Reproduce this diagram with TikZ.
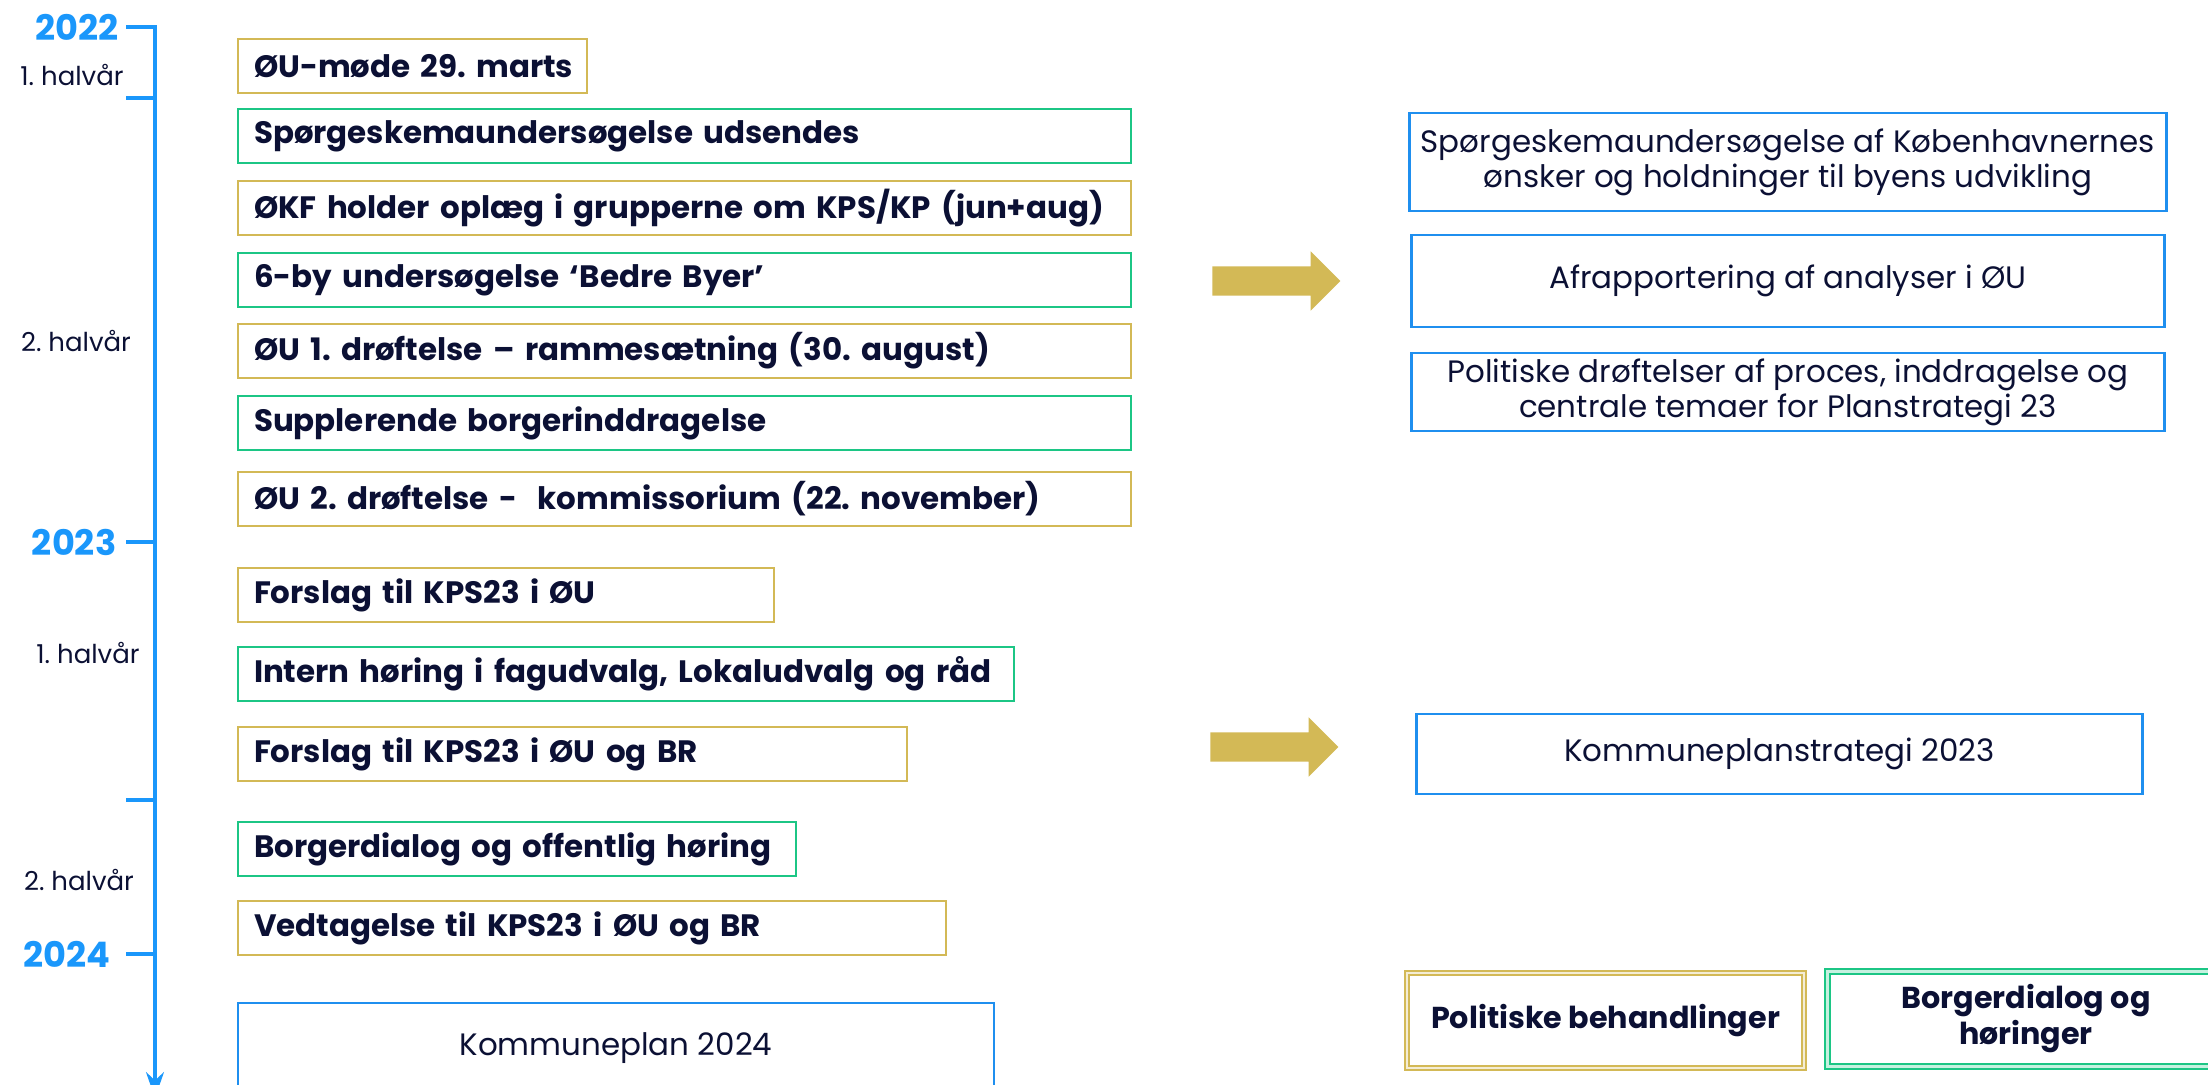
\documentclass[tikz,border=0pt]{standalone}
\usepackage{fontspec}
\setmainfont{Poppins}
\usetikzlibrary{positioning,shapes.arrows,arrows.meta}
\definecolor{kbhgold}{HTML}{D3B956}
\definecolor{kbhgreen}{HTML}{1CC685}
\definecolor{kbhblue}{HTML}{1F8FEF}
\definecolor{lineblue}{HTML}{1A97FB}
\definecolor{navy}{HTML}{0B1034}
\frenchspacing

\begin{document}
\begin{tikzpicture}[x=1cm, y=-1cm,
					event/.style={rectangle, draw, line width=0.8pt, outer sep=0pt, minimum height=0.54cm, inner xsep=0.16cm, inner ysep=0pt, align=left, text=navy, font=\bfseries\fontsize{8.8}{10}\selectfont},
					polit/.style={event, draw=kbhgold},
					dialog/.style={event, draw=kbhgreen},
					result/.style={rectangle, draw=kbhblue, line width=0.8pt, outer sep=0pt, inner ysep=0.5pt, align=center, text=navy, font=\fontsize{8.8}{10}\selectfont},
					year/.style={text=lineblue, font=\bfseries\fontsize{10}{12}\selectfont, anchor=east, inner sep=0pt},
					half/.style={text=navy, font=\fontsize{7.4}{9}\selectfont, inner sep=0pt},
					tline/.style={draw=lineblue, line width=0.9pt},
					blockarrow/.style={single arrow, fill=kbhgold, draw=none, minimum height=1.28cm, inner xsep=0pt, inner ysep=0.14cm, single arrow head extend=0.15cm, single arrow tip angle=90},
					legend/.style={rectangle, line width=0.6pt, double distance=0.6pt, minimum width=3.97cm, minimum height=0.95cm, align=center, text=navy, font=\bfseries\fontsize{8.6}{8.8}\selectfont}
				]
				\useasboundingbox (0,0) rectangle (22.08,10.84);
				\clip (0,0) rectangle (22.08,10.84);
				\coordinate (t22) at (1.55,0.27);
				\coordinate (t22h) at (1.55,0.98);
				\coordinate (t23) at (1.55,5.42);
				\coordinate (t23h) at (1.55,8.00);
				\coordinate (t24) at (1.55,9.54);
				\coordinate (tend) at (1.55,10.98);
				\draw[tline, -{Stealth[length=2.6mm, width=1.8mm]}] ([xshift=-2.9mm]t22) -- (t22) -- (tend);
				\foreach \t in {t22h,t23,t23h,t24}
					\draw[tline] (\t) -- ++(-0.29,0);
				\node[year] (y22) at (1.19,0.27) {2022};
				\node[year] (y23) at (1.17,5.42) {2023};
				\node[year] (y24) at (1.11,9.54) {2024};
				\node[half] (h22a) at (0.72,0.75) {1. halvår};
				\node[half] (h22b) at (0.76,3.41) {2. halvår};
				\node[half] (h23a) at (0.88,6.53) {1. halvår};
				\node[half] (h23b) at (0.79,8.80) {2. halvår};
				\node[polit, text width=3.17cm, anchor=north west] (moede) at (2.38,0.39) {\mbox{ØU-møde 29. marts}};
				\node[dialog, text width=8.61cm] (sporg) [below=1.6mm of moede.south west, anchor=north west] {Spørgeskemaundersøgelse udsendes};
				\node[polit, text width=8.61cm] (oplaeg) [below=1.8mm of sporg.south west, anchor=north west] {ØKF holder oplæg i grupperne om KPS/KP (jun+aug)};
				\node[dialog, text width=8.61cm] (seksby) [below=1.8mm of oplaeg.south west, anchor=north west] {6-by undersøgelse ‘Bedre Byer’};
				\node[polit, text width=8.61cm] (droftA) [below=1.7mm of seksby.south west, anchor=north west] {ØU 1. drøftelse – rammesætning (30. august)};
				\node[dialog, text width=8.61cm] (supp) [below=1.8mm of droftA.south west, anchor=north west] {Supplerende borgerinddragelse};
				\node[polit, text width=8.61cm] (droftB) [below=2.2mm of supp.south west, anchor=north west] {ØU 2. drøftelse - \ kommissorium (22. november)};
				\node[polit, text width=5.04cm] (forslA) [below=4.2mm of droftB.south west, anchor=north west] {Forslag til KPS23 i ØU};
				\node[dialog, text width=7.44cm] (intern) [below=2.5mm of forslA.south west, anchor=north west] {Intern høring i fagudvalg, Lokaludvalg og råd};
				\node[polit, text width=6.37cm] (forslB) [below=2.6mm of intern.south west, anchor=north west] {Forslag til KPS23 i ØU og BR};
				\node[dialog, text width=5.26cm] (borger) [below=4.1mm of forslB.south west, anchor=north west] {Borgerdialog og offentlig høring};
				\node[polit, text width=6.76cm] (vedt) [below=2.5mm of borger.south west, anchor=north west] {Vedtagelse til KPS23 i ØU og BR};
				\node[result, minimum width=7.56cm, minimum height=0.9cm] (kplan) [below=4.8mm of vedt.south west, anchor=north west] {Kommuneplan 2024};
				\node[blockarrow] (arrA) at (12.69,2.81) {};
				\node[result, minimum width=7.53cm, minimum height=0.92cm] (afrap) [right=0.70cm of arrA] {Afrapportering af analyser i ØU};
				\node[result, minimum width=7.53cm, minimum height=0.98cm] (survey) [above=2.4mm of afrap] {Spørgeskemaundersøgelse af Københavnernes\\ønsker og holdninger til byens udvikling};
				\node[result, minimum width=7.53cm, minimum height=0.78cm] (temaer) [below=2.6mm of afrap] {Politiske drøftelser af proces, inddragelse og\\centrale temaer for Planstrategi 23};
				\node[blockarrow] (arrB) at (12.67,7.47) {};
				\node[result, minimum width=7.26cm, minimum height=0.80cm] (strat) [right=0.77cm of arrB, yshift=-0.7mm] {Kommuneplanstrategi 2023};
				\node[legend, draw=kbhgold, double=kbhgold!25] (legpol) at (16.055,10.205) {Politiske behandlinger};
				\node[legend, draw=kbhgreen, double=kbhgreen!25] (legdia) at (20.26,10.19) {Borgerdialog og\\høringer};
				\end{tikzpicture}
\end{document}
